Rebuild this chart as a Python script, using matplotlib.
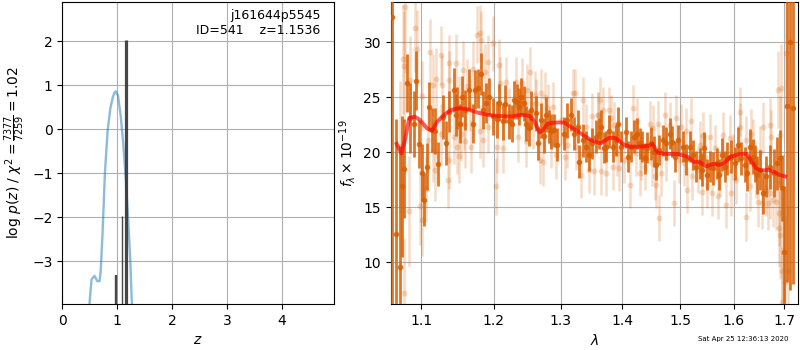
import numpy as np
import matplotlib
matplotlib.use("Agg")
import matplotlib.pyplot as plt
from matplotlib.ticker import NullLocator, FixedLocator, FixedFormatter

# ---------------- data ----------------
# redshift probability curve
z_grid = [0.48, 0.496, 0.533, 0.587, 0.637, 0.679, 0.70, 0.733, 0.776, 0.826, 0.876,
          0.919, 0.950, 0.975, 1.015, 1.064, 1.108, 1.157, 1.20, 1.237, 1.268, 1.29]
log_pz = [-4.5, -3.94, -3.41, -3.33, -3.45, -3.45, -3.2, -2.36, -1.0, -0.02, 0.48,
          0.72, 0.83, 0.86, 0.76, 0.30, -0.30, -1.14, -2.05, -2.95, -3.98, -4.6]

# chi2 minima markers
bar_z = [0.972, 1.095, 1.1536]
bar_top = [-3.3, -1.97, 2.02]
bar_lw = [1.7, 1.0, 2.3]

# spectrum: primary (dark) points
dark_wave = [1.062, 1.0675, 1.0717, 1.075, 1.077, 1.0817, 1.0848, 1.0905, 1.0934, 1.0966,
             1.1013, 1.1035, 1.1075, 1.1102, 1.1145, 1.1176, 1.122, 1.1287, 1.1331, 1.1376,
             1.1434, 1.1464, 1.1478, 1.1518, 1.1544, 1.1585, 1.1644, 1.1698, 1.1733, 1.1779,
             1.1814, 1.1846, 1.1891, 1.1937, 1.199, 1.2045, 1.2075, 1.2125, 1.2165, 1.2225,
             1.2265, 1.230, 1.2335, 1.2365, 1.240, 1.2435, 1.2465, 1.2515, 1.255, 1.2615,
             1.265, 1.270, 1.274, 1.2775, 1.2815, 1.285, 1.290, 1.295, 1.3053, 1.3107,
             1.316, 1.3213, 1.3268, 1.3294, 1.3348, 1.3401, 1.3444, 1.3498, 1.356, 1.3615,
             1.3647, 1.369, 1.3727, 1.3782, 1.3835, 1.3888, 1.3926, 1.3968, 1.4053, 1.4095,
             1.414, 1.420, 1.4246, 1.4293, 1.434, 1.438, 1.442, 1.4486, 1.4544, 1.458,
             1.4632, 1.4696, 1.4754, 1.4814, 1.4854, 1.4912, 1.496, 1.505, 1.511, 1.5174,
             1.5235, 1.5296, 1.536, 1.5396, 1.5439, 1.5489, 1.555, 1.5611, 1.5674, 1.5717,
             1.5767, 1.5828, 1.587, 1.5952, 1.6014, 1.608, 1.6146, 1.6211, 1.6256, 1.631,
             1.6363, 1.6408, 1.6454, 1.6507, 1.6572, 1.6639, 1.6704, 1.6783, 1.6848, 1.6901,
             1.6947, 1.700, 1.7047, 1.7105, 1.7187]
dark_flux = [32.3, 12.55, 9.6, 16.9, 18.5, 26.3, 23.1, 22.6, 26.5, 20.75,
             18.15, 15.7, 18.7, 24.15, 22.0, 21.9, 18.9, 23.2, 20.8, 23.7,
             25.7, 23.4, 24.0, 22.6, 25.06, 23.85, 25.7, 22.6, 25.7, 25.8,
             27.1, 23.85, 24.45, 25.06, 23.25, 23.0, 24.5, 22.8, 24.4, 22.8,
             22.6, 24.75, 24.6, 24.15, 25.06, 24.45, 22.6, 22.2, 23.85, 23.55,
             20.8, 22.9, 21.5, 23.4, 22.3, 21.9, 22.0, 20.7, 21.7, 22.9,
             23.4, 21.7, 22.3, 19.15, 21.1, 20.5, 19.75, 20.8, 21.4, 21.7,
             22.3, 20.4, 20.5, 21.9, 20.5, 21.1, 22.6, 20.5, 21.8, 19.6,
             20.5, 21.4, 21.7, 20.8, 20.5, 19.45, 20.4, 20.8, 20.06, 18.85,
             20.2, 21.1, 20.8, 21.7, 20.97, 19.6, 21.1, 20.5, 19.36, 20.5,
             19.75, 18.7, 19.0, 18.4, 20.4, 17.94, 18.7, 18.55, 19.0, 17.94,
             19.75, 18.7, 19.45, 19.6, 19.0, 20.7, 19.45, 18.85, 18.1, 20.5,
             19.6, 19.0, 17.94, 18.4, 16.3, 17.8, 18.7, 18.1, 19.0, 19.45,
             16.76, 10.9, 24.2, 30.0, 24.0]
dark_err = [28.0, 10.5, 11.0, 6.4, 4.5, 2.6, 3.2, 3.0, 2.7, 2.2,
            2.6, 2.4, 2.1, 2.2, 2.0, 2.1, 2.0, 2.0, 2.0, 1.9,
            2.0, 1.9, 1.9, 1.8, 1.9, 1.8, 1.9, 1.8, 1.8, 1.8,
            1.9, 1.7, 1.8, 1.7, 1.7, 1.7, 1.7, 1.7, 1.7, 1.6,
            1.7, 1.7, 1.6, 1.7, 1.7, 1.6, 1.6, 1.6, 1.7, 1.6,
            1.5, 1.6, 1.6, 1.6, 1.5, 1.6, 1.5, 1.5, 1.5, 1.6,
            1.5, 1.5, 1.5, 1.5, 1.5, 1.4, 1.5, 1.4, 1.5, 1.4,
            1.5, 1.4, 1.4, 1.5, 1.4, 1.4, 1.5, 1.4, 1.4, 1.4,
            1.4, 1.5, 1.4, 1.4, 1.4, 1.4, 1.4, 1.5, 1.4, 1.4,
            1.4, 1.4, 1.5, 1.4, 1.4, 1.4, 1.4, 1.4, 1.4, 1.4,
            1.4, 1.4, 1.4, 1.5, 1.4, 1.4, 1.4, 1.5, 1.4, 1.4,
            1.5, 1.4, 1.5, 1.5, 1.5, 1.6, 1.5, 1.6, 1.6, 1.6,
            1.6, 1.7, 1.7, 1.8, 1.9, 1.9, 2.0, 2.2, 2.4, 2.6,
            3.0, 6.0, 16.0, 22.5, 16.0]

# spectrum: secondary (faint) points
light_wave = [1.0717, 1.076, 1.078, 1.078, 1.079, 1.0835, 1.0857, 1.092, 1.0948, 1.0987,
              1.1013, 1.1013, 1.1057, 1.1088, 1.111, 1.1153, 1.1153, 1.1176, 1.1197, 1.1262,
              1.1262, 1.1275, 1.1353, 1.1366, 1.1376, 1.1376, 1.1434, 1.1464, 1.1486, 1.1508,
              1.151, 1.154, 1.1566, 1.1575, 1.1585, 1.162, 1.1667, 1.1674, 1.171, 1.1765,
              1.18, 1.18, 1.1814, 1.1846, 1.1873, 1.1913, 1.1913, 1.199, 1.2025, 1.205,
              1.2075, 1.209, 1.2125, 1.2175, 1.2225, 1.2325, 1.235, 1.2415, 1.245, 1.2475,
              1.2485, 1.2525, 1.2575, 1.26, 1.2625, 1.2675, 1.27, 1.2725, 1.2765, 1.28,
              1.285, 1.2875, 1.2925, 1.30, 1.3067, 1.3107, 1.3187, 1.3227, 1.324, 1.332,
              1.3348, 1.3401, 1.3455, 1.35, 1.3535, 1.359, 1.3594, 1.3636, 1.3647, 1.368,
              1.3727, 1.3782, 1.3808, 1.3835, 1.386, 1.3915, 1.3947, 1.4026, 1.4123, 1.417,
              1.4228, 1.4246, 1.4293, 1.4316, 1.438, 1.4468, 1.4498, 1.4527, 1.456, 1.457,
              1.4603, 1.4632, 1.4667, 1.4737, 1.4754, 1.4814, 1.4888, 1.4928, 1.4988, 1.502,
              1.5069, 1.511, 1.5127, 1.5204, 1.5216, 1.5329, 1.5365, 1.5386, 1.5396, 1.5427,
              1.5457, 1.5489, 1.555, 1.5581, 1.5642, 1.5704, 1.5735, 1.5798, 1.5858, 1.592,
              1.595, 1.598, 1.6047, 1.6113, 1.6126, 1.6243, 1.6243, 1.631, 1.634, 1.6376,
              1.644, 1.6474, 1.6507, 1.6559, 1.6572, 1.6639, 1.667, 1.6704, 1.6717, 1.6724,
              1.677, 1.6835, 1.6868, 1.6881, 1.6881, 1.6901, 1.6921, 1.6934, 1.6953, 1.6953,
              1.702, 1.7033, 1.7065]
light_flux = [20.5, 28.5, 27.85, 7.2, 33.2, 14.7, 26.6, 31.3, 29.4, 15.1,
              25.1, 13.8, 16.7, 21.1, 29.1, 26.1, 20.1, 18.4, 26.7, 28.8,
              21.7, 26.1, 17.5, 26.6, 28.1, 19.3, 21.4, 28.15, 20.5, 19.7,
              24.45, 21.7, 27.5, 22.6, 21.0, 26.0, 24.3, 20.5, 27.6, 30.7,
              30.8, 21.9, 30.2, 21.1, 27.3, 28.2, 22.3, 29.9, 16.9, 20.5,
              27.9, 26.3, 20.4, 26.4, 23.55, 26.4, 21.4, 26.3, 23.55, 21.0,
              25.7, 27.3, 22.5, 25.2, 24.45, 19.3, 25.4, 19.15, 25.06, 24.0,
              20.8, 24.15, 19.75, 22.9, 19.6, 20.7, 25.4, 25.4, 20.5, 17.95,
              24.75, 22.3, 18.4, 23.25, 18.25, 23.4, 23.4, 24.75, 18.25, 23.85,
              18.1, 23.85, 23.1, 18.7, 22.5, 19.9, 18.55, 19.3, 17.0, 24.0,
              19.9, 22.8, 18.1, 19.6, 18.7, 22.6, 19.0, 22.2, 17.8, 17.0,
              22.6, 14.0, 18.1, 23.4, 19.45, 22.5, 15.35, 23.1, 19.3, 22.3,
              19.0, 21.9, 16.6, 22.8, 17.8, 18.4, 20.7, 19.6, 16.4, 21.6,
              19.6, 17.0, 21.4, 16.3, 20.4, 16.0, 18.1, 21.6, 15.2, 21.3,
              16.3, 19.6, 17.5, 23.7, 22.3, 21.1, 14.15, 16.9, 21.7, 20.8,
              18.1, 15.5, 20.06, 15.35, 22.3, 16.6, 15.35, 22.5, 16.3, 21.4,
              15.7, 15.5, 25.7, 14.45, 13.1, 21.6, 12.5, 25.8, 9.2, 6.4,
              8.2, 29.0, 9.2]
light_err = [6.0, 5.0, 5.0, 5.0, 6.0, 5.0, 4.0, 4.0, 3.5, 3.5,
             3.2, 3.2, 3.0, 3.0, 3.0, 2.8, 2.8, 2.8, 2.8, 2.7,
             2.7, 2.7, 2.6, 2.6, 2.6, 2.6, 2.5, 2.6, 2.5, 2.5,
             2.5, 2.5, 2.6, 2.4, 2.4, 2.5, 2.4, 2.4, 2.5, 2.6,
             2.6, 2.4, 2.6, 2.4, 2.5, 2.5, 2.4, 2.5, 2.6, 2.4,
             2.4, 2.4, 2.3, 2.3, 2.3, 2.3, 2.3, 2.3, 2.3, 2.3,
             2.3, 2.3, 2.2, 2.2, 2.2, 2.2, 2.2, 2.2, 2.2, 2.2,
             2.2, 2.2, 2.2, 2.2, 2.1, 2.1, 2.2, 2.2, 2.1, 2.1,
             2.1, 2.1, 2.1, 2.1, 2.1, 2.1, 2.1, 2.1, 2.1, 2.1,
             2.1, 2.1, 2.1, 2.1, 2.1, 2.1, 2.1, 2.1, 2.1, 2.1,
             2.1, 2.1, 2.1, 2.1, 2.1, 2.1, 2.1, 2.1, 2.1, 2.1,
             2.1, 2.1, 2.1, 2.1, 2.1, 2.1, 2.1, 2.1, 2.1, 2.1,
             2.1, 2.1, 2.1, 2.1, 2.1, 2.1, 2.1, 2.1, 2.1, 2.1,
             2.1, 2.1, 2.1, 2.1, 2.1, 2.1, 2.1, 2.1, 2.1, 2.1,
             2.1, 2.1, 2.2, 2.2, 2.2, 2.2, 2.2, 2.2, 2.2, 2.2,
             2.3, 2.3, 2.3, 2.3, 2.3, 2.4, 2.4, 2.4, 2.4, 2.4,
             2.5, 2.6, 3.5, 3.0, 3.5, 3.5, 4.0, 4.0, 5.0, 5.0,
             6.0, 5.0, 6.0]

# best-fit model
model_wave = [1.068, 1.074, 1.0787, 1.0843, 1.0912, 1.098, 1.1074, 1.1144, 1.1213, 1.1306,
              1.140, 1.1514, 1.163, 1.177, 1.1907, 1.205, 1.225, 1.240, 1.2525, 1.260,
              1.2675, 1.2725, 1.280, 1.2925, 1.3053, 1.316, 1.332, 1.348, 1.364, 1.3775,
              1.388, 1.4018, 1.4135, 1.428, 1.4456, 1.4515, 1.460, 1.472, 1.4953, 1.5136,
              1.526, 1.535, 1.5475, 1.560, 1.5722, 1.5815, 1.594, 1.6123, 1.6247, 1.643,
              1.6525, 1.668, 1.680, 1.6895, 1.702]
model_flux = [20.76, 19.9, 21.1, 23.1, 23.24, 22.94, 22.18, 21.97, 22.79, 23.4,
              23.85, 24.0, 23.9, 23.6, 23.4, 23.3, 23.24, 23.4, 23.3, 22.8,
              21.8, 22.0, 22.6, 22.7, 22.7, 22.3, 21.7, 21.1, 20.8, 21.3,
              21.3, 20.7, 20.5, 20.5, 20.6, 20.75, 19.97, 19.85, 19.85, 19.6,
              19.1, 19.15, 18.7, 18.94, 18.85, 19.0, 19.6, 19.85, 19.85, 18.55,
              18.33, 18.4, 18.2, 17.94, 17.8]

wave_ticks = [1.1, 1.2, 1.3, 1.4, 1.5, 1.6, 1.7]
wave_tick_labels = ["1.1", "1.2", "1.3", "1.4", "1.5", "1.6", "1.7"]

# ---------------- plot ----------------
fig = plt.figure(figsize=(8, 3.5), dpi=100)
ax1 = fig.add_axes([0.0779, 0.1314, 0.3396, 0.8643])
ax2 = fig.add_axes([0.4884, 0.1314, 0.5091, 0.8643])

orange = "#d95f02"

# left panel
ax1.plot(z_grid, log_pz, color="tab:blue", alpha=0.5, lw=1.7, zorder=2)
for zb, tb, lw in zip(bar_z, bar_top, bar_lw):
    ax1.vlines(zb, -10, tb, color="0.2", lw=lw, alpha=0.9, zorder=3)
ax1.set_xlim(0, 4.95)
ax1.set_ylim(-3.97, 2.9)
ax1.set_xticks([0, 1, 2, 3, 4])
ax1.set_yticks([-3, -2, -1, 0, 1, 2])
ax1.grid(True, zorder=0)
ax1.set_axisbelow(True)
ax1.set_xlabel(r"$z$")
ax1.set_ylabel(r"log $p(z)$ / $\chi^2=\frac{7377}{7259}=1.02$")
ax1.text(0.95, 0.975, "j161644p5545\nID=541    z=1.1536", transform=ax1.transAxes,
         ha="right", va="top", fontsize=9, linespacing=1.15)

# right panel
ax2.errorbar(light_wave, light_flux, yerr=light_err, fmt="o", color=orange,
             alpha=0.22, ms=4.3, elinewidth=1.8, capsize=0, mew=0, zorder=2)
ax2.errorbar(dark_wave, dark_flux, yerr=dark_err, fmt="o", color=orange,
             alpha=0.85, ms=4.0, elinewidth=2.0, capsize=0, mew=0, zorder=3)
ax2.plot(model_wave, model_flux, color="red", alpha=0.65, lw=2.8, zorder=4)
ax2.set_xscale("log")
ax2.set_xlim(1.0604, 1.728)
ax2.set_ylim(6.2, 33.7)
ax2.xaxis.set_major_locator(FixedLocator(wave_ticks))
ax2.xaxis.set_major_formatter(FixedFormatter(wave_tick_labels))
ax2.xaxis.set_minor_locator(NullLocator())
ax2.set_yticks([10, 15, 20, 25, 30])
ax2.grid(True, zorder=0)
ax2.set_axisbelow(True)
ax2.set_xlabel(r"$\lambda$")
ax2.set_ylabel(r"$f_\lambda\times10^{-19}$")

fig.text(0.985, 0.022, "Sat Apr 25 12:36:13 2020", ha="right", va="bottom", fontsize=5)

fig.savefig("out.png", dpi=100)
